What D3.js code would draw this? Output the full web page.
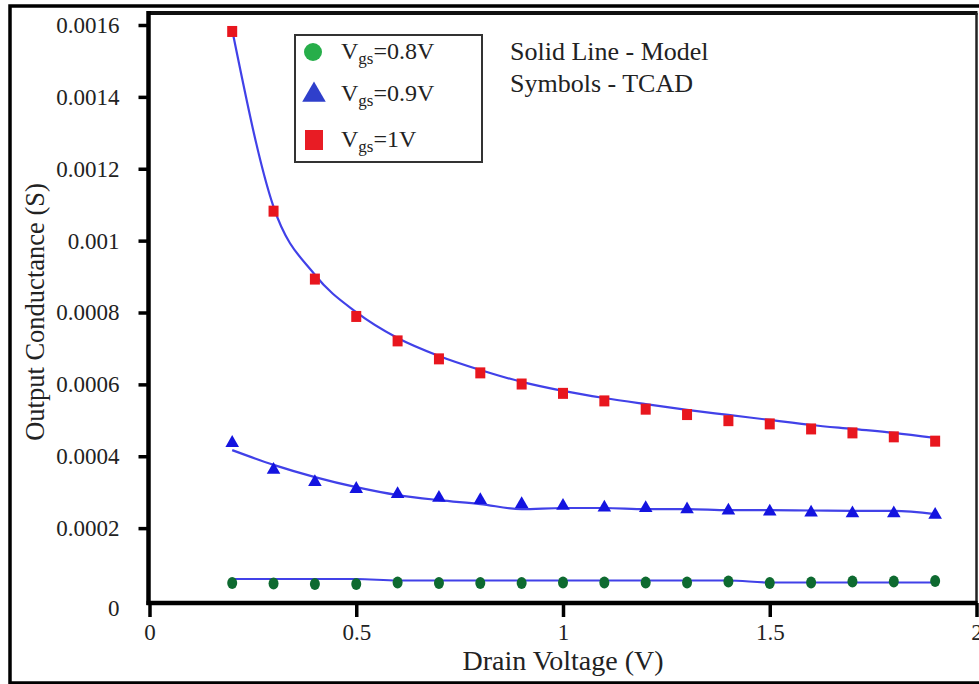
<!DOCTYPE html>
<html>
<head>
<meta charset="utf-8">
<script src="https://cdn.jsdelivr.net/npm/d3@7/dist/d3.min.js"></script>
<style>
  html, body { margin: 0; padding: 0; background: #fff; }
  svg { display: block; }
</style>
</head>
<body>
<svg id="chart" width="979" height="684"></svg>
<script>
// Drain voltage sweep (V)
const drainVoltage = [0.2, 0.3, 0.4, 0.5, 0.6, 0.7, 0.8, 0.9, 1.0, 1.1, 1.2, 1.3, 1.4, 1.5, 1.6, 1.7, 1.8, 1.9];

// TCAD output conductance (S)
const tcadVgs08 = [0.0000473, 0.0000459, 0.0000445, 0.0000445, 0.0000487, 0.0000473, 0.0000473, 0.0000473, 0.0000487,
                   0.0000487, 0.0000487, 0.0000487, 0.0000515, 0.0000473, 0.0000487, 0.0000515, 0.0000515, 0.0000529];
const tcadVgs09 = [0.000437, 0.000362, 0.000328, 0.000309, 0.000295, 0.000284, 0.000278, 0.000267, 0.000262,
                   0.000257, 0.000256, 0.000252, 0.000249, 0.000246, 0.000243, 0.000241, 0.000241, 0.000237];
const tcadVgs10 = [0.001582, 0.001082, 0.000893, 0.000789, 0.000721, 0.000671, 0.000632, 0.000601, 0.000575,
                   0.000554, 0.000531, 0.000516, 0.000499, 0.000490, 0.000476, 0.000465, 0.000454, 0.000442];

// Model output conductance (S)
const modelVgs08 = [0.0000584, 0.0000584, 0.0000584, 0.0000584, 0.0000543, 0.0000543, 0.0000543, 0.0000543, 0.0000543,
                    0.0000543, 0.0000543, 0.0000543, 0.0000543, 0.0000487, 0.0000487, 0.0000487, 0.0000487, 0.0000487];
const modelVgs09 = [0.000417, 0.000376, 0.000342, 0.000314, 0.000292, 0.000278, 0.000267, 0.000253, 0.000256,
                    0.000256, 0.000253, 0.000253, 0.000250, 0.000250, 0.000249, 0.000248, 0.000248, 0.000239];
const modelVgs10 = [0.001586, 0.001094, 0.000905, 0.000801, 0.000729, 0.000679, 0.000640, 0.000607, 0.000582,
                    0.000562, 0.000545, 0.000529, 0.000515, 0.000501, 0.000487, 0.000476, 0.000465, 0.000451];

// Axis ticks
const xTicks = [0, 0.5, 1, 1.5, 2];
const xTickLabels = ["0", "0.5", "1", "1.5", "2"];
const yTicks = [0, 0.0002, 0.0004, 0.0006, 0.0008, 0.001, 0.0012, 0.0014, 0.0016];
const yTickLabels = ["0", "0.0002", "0.0004", "0.0006", "0.0008", "0.001", "0.0012", "0.0014", "0.0016"];

// Legend entries
const legendBias = ["0.8V", "0.9V", "1V"];
const legendShapes = ["circle", "triangle", "square"];
const noteLines = ["Solid Line - Model", "Symbols - TCAD"];

const FONT = "'Liberation Serif', 'Times New Roman', serif";
const svg = d3.select("#chart");

const plot = { left: 149.5, right: 976.5, top: 13, bottom: 603 };
const x = d3.scaleLinear().domain([0, 2]).range([plot.left, plot.right]);
const y = d3.scaleLinear().domain([0, 0.0016]).range([600, 25]);

// Outer figure border
svg.append("rect")
  .attr("x", 10).attr("y", 6).attr("width", 985).attr("height", 677)
  .attr("fill", "none").attr("stroke", "#000").attr("stroke-width", 3.5);

// Plot frame: top and right edges
svg.append("line")
  .attr("x1", plot.left).attr("x2", plot.right + 1).attr("y1", plot.top).attr("y2", plot.top)
  .attr("stroke", "#111").attr("stroke-width", 4);
svg.append("line")
  .attr("x1", plot.right).attr("x2", plot.right).attr("y1", plot.top).attr("y2", plot.bottom)
  .attr("stroke", "#222").attr("stroke-width", 2.5);

// Y axis
const yAxis = d3.axisLeft(y)
  .tickValues(yTicks)
  .tickFormat((d, i) => yTickLabels[i])
  .tickSize(10)
  .tickSizeOuter(0)
  .tickPadding(19);
const gy = svg.append("g").attr("transform", `translate(${plot.left - 1},0)`).call(yAxis);
gy.select(".domain").remove();
gy.selectAll(".tick line").attr("stroke", "#000").attr("stroke-width", 3.5);
gy.selectAll(".tick text")
  .style("font-family", FONT)
  .style("font-size", "23px").attr("fill", "#222");
gy.selectAll(".tick").filter(d => d === 0).select("text").attr("dy", "0.68em");
gy.selectAll(".tick").filter(d => d === 0).select("line").remove();

// X axis
const xAxis = d3.axisBottom(x)
  .tickValues(xTicks)
  .tickFormat((d, i) => xTickLabels[i])
  .tickSize(14)
  .tickSizeOuter(0)
  .tickPadding(7);
const gx = svg.append("g").attr("transform", `translate(0,${plot.bottom})`).call(xAxis);
gx.select(".domain").remove();
gx.selectAll(".tick line").attr("stroke", "#000").attr("stroke-width", 3.5);
gx.selectAll(".tick text")
  .style("font-family", FONT)
  .style("font-size", "23px").attr("fill", "#222");

// Axis lines (left and bottom)
svg.append("line")
  .attr("x1", plot.left - 1).attr("x2", plot.left - 1).attr("y1", plot.top - 2).attr("y2", plot.bottom + 2)
  .attr("stroke", "#000").attr("stroke-width", 4.5);
svg.append("line")
  .attr("x1", plot.left - 3).attr("x2", plot.right + 1).attr("y1", plot.bottom).attr("y2", plot.bottom)
  .attr("stroke", "#000").attr("stroke-width", 4.5);

// Axis titles
svg.append("text")
  .attr("x", 563).attr("y", 670)
  .attr("text-anchor", "middle")
  .style("font-family", FONT).style("font-size", "28px").attr("fill", "#222")
  .text("Drain Voltage (V)");
svg.append("text")
  .attr("transform", "translate(44,312) rotate(-90)")
  .attr("text-anchor", "middle")
  .style("font-family", FONT).style("font-size", "26.5px").attr("fill", "#222")
  .text("Output Conductance (S)");

// Model curves
const lineColor = "#4141e8";
const modelLine = d3.line()
  .x((d, i) => x(drainVoltage[i]))
  .y(d => y(d))
  .curve(d3.curveMonotoneX);
[modelVgs08, modelVgs09, modelVgs10].forEach(series => {
  svg.append("path")
    .attr("d", modelLine(series))
    .attr("fill", "none")
    .attr("stroke", lineColor)
    .attr("stroke-width", 2.2);
});

// TCAD symbols
const pts = arr => arr.map((v, i) => ({ vd: drainVoltage[i], g: v }));

svg.append("g").selectAll("ellipse")
  .data(pts(tcadVgs08)).join("ellipse")
  .attr("cx", d => x(d.vd)).attr("cy", d => y(d.g))
  .attr("rx", 5).attr("ry", 6)
  .attr("fill", "#0e6a30");

const tri = d3.symbol().type(d3.symbolTriangle).size(80);
svg.append("g").selectAll("path")
  .data(pts(tcadVgs09)).join("path")
  .attr("transform", d => `translate(${x(d.vd)},${y(d.g)})`)
  .attr("d", tri)
  .attr("fill", "#1414e0");

svg.append("g").selectAll("rect")
  .data(pts(tcadVgs10)).join("rect")
  .attr("x", d => x(d.vd) - 5).attr("y", d => y(d.g) - 5.5)
  .attr("width", 10).attr("height", 11)
  .attr("fill", "#e8161e");

// Legend
const lg = svg.append("g");
lg.append("rect")
  .attr("x", 295).attr("y", 35).attr("width", 187).attr("height", 127)
  .attr("fill", "#fff").attr("stroke", "#333").attr("stroke-width", 2);

const legendRows = [52, 95, 140];
const legendBaselines = [59, 101, 147];
legendShapes.forEach((shape, i) => {
  const cy = legendRows[i];
  if (shape === "circle") {
    lg.append("circle").attr("cx", 313).attr("cy", cy).attr("r", 9).attr("fill", "#27ae4a");
  } else if (shape === "triangle") {
    lg.append("path")
      .attr("transform", `translate(314,${cy})`)
      .attr("d", d3.symbol().type(d3.symbolTriangle).size(240))
      .attr("fill", "#2f3fcb");
  } else {
    lg.append("rect").attr("x", 305).attr("y", cy - 10).attr("width", 18).attr("height", 20).attr("fill", "#e81c24");
  }
  const t = lg.append("text").attr("x", 341).attr("y", legendBaselines[i])
    .style("font-family", FONT).style("font-size", "24px").attr("fill", "#222");
  t.append("tspan").text("V");
  t.append("tspan").attr("dy", 5).style("font-size", "17px").text("gs");
  t.append("tspan").attr("dy", -5).text("=" + legendBias[i]);
});

// Annotation
noteLines.forEach((s, i) => {
  svg.append("text")
    .attr("x", 510).attr("y", 60 + i * 32)
    .style("font-family", FONT).style("font-size", "26px").attr("fill", "#222")
    .text(s);
});
</script>
</body>
</html>
